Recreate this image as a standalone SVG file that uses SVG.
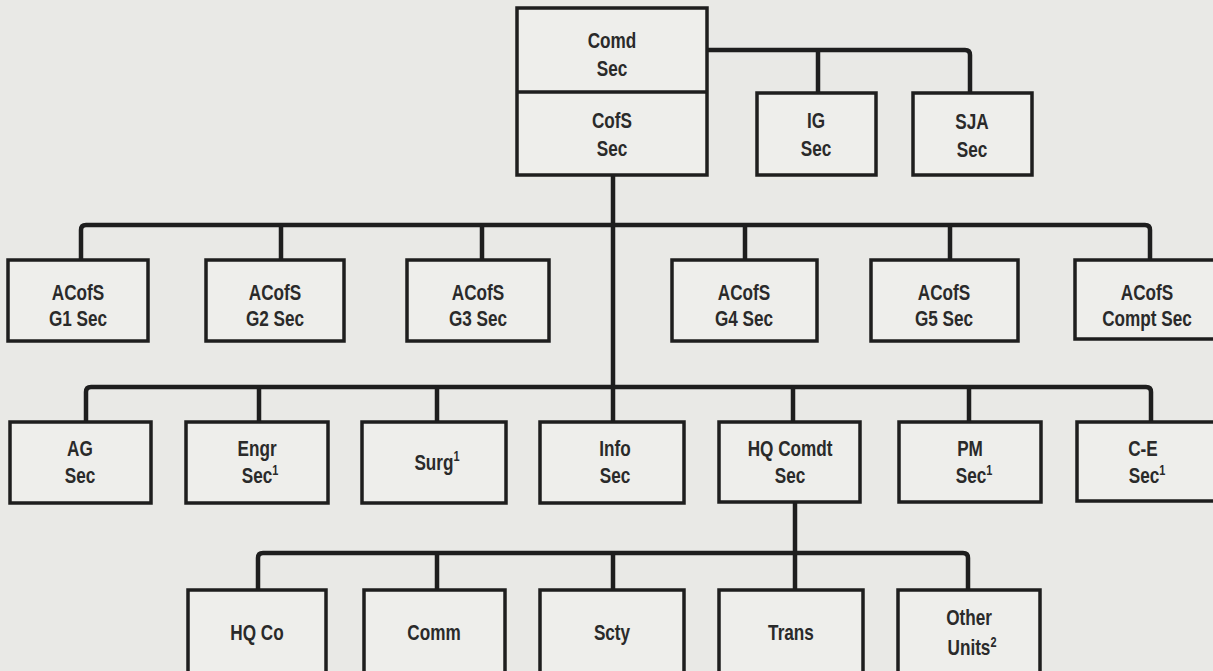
<svg xmlns="http://www.w3.org/2000/svg" width="1213" height="671" viewBox="0 0 1213 671">
<style>
.bg{fill:#e9e9e6}
.box{fill:#eeeeeb;stroke:#1e1e1e;stroke-width:3.5}
.ln{fill:none;stroke:#1e1e1e;stroke-width:4.5;stroke-linejoin:round;stroke-linecap:butt}
text{font-family:"Liberation Sans Narrow","Liberation Sans",Arial,sans-serif;font-weight:bold;font-size:22px;fill:#2a2a2a;text-anchor:middle;transform-box:fill-box;transform-origin:center;transform:scaleX(0.78)}
.sup{font-size:14px}
</style>
<rect class="bg" x="0" y="0" width="1213" height="671"/>
<g id="connectors">
<path class="ln" d="M707 50 H965 Q970 50 970 55 V93"/>
<path class="ln" d="M818 50 V93"/>
<path class="ln" d="M613 175 V422"/>
<path class="ln" d="M81 260 V230 Q81 225 86 225 H1145 Q1150 225 1150 230 V260"/>
<path class="ln" d="M281 225 V260 M482 225 V260 M745 225 V260 M950 225 V260"/>
<path class="ln" d="M86 422 V392 Q86 387 91 387 H1146 Q1151 387 1151 392 V422"/>
<path class="ln" d="M259 387 V422 M437 387 V422 M793 387 V422 M969 387 V422"/>
<path class="ln" d="M795 502 V590"/>
<path class="ln" d="M258 590 V558 Q258 553 263 553 H963 Q968 553 968 558 V590"/>
<path class="ln" d="M437 553 V590 M613 553 V590"/>
</g>
<g id="comd-cofs">
<rect class="box" x="517" y="8" width="190" height="167"/>
<line x1="517" y1="92" x2="707" y2="92" stroke="#1e1e1e" stroke-width="3.5"/>
<text x="612" y="48">Comd</text><text x="612" y="76">Sec</text>
<text x="612" y="128">CofS</text><text x="612" y="156">Sec</text>
</g>
<g id="ig"><rect class="box" x="757" y="93" width="119" height="82"/><text x="816" y="128">IG</text><text x="816" y="156">Sec</text></g>
<g id="sja"><rect class="box" x="913" y="93" width="119" height="82"/><text x="972" y="129">SJA</text><text x="972" y="157">Sec</text></g>

<g id="g1"><rect class="box" x="8" y="260" width="140" height="81"/><text x="78" y="300">ACofS</text><text x="78" y="326">G1 Sec</text></g>
<g id="g2"><rect class="box" x="206" y="260" width="138" height="81"/><text x="275" y="300">ACofS</text><text x="275" y="326">G2 Sec</text></g>
<g id="g3"><rect class="box" x="407" y="260" width="142" height="81"/><text x="478" y="300">ACofS</text><text x="478" y="326">G3 Sec</text></g>
<g id="g4"><rect class="box" x="672" y="260" width="145" height="81"/><text x="744" y="300">ACofS</text><text x="744" y="326">G4 Sec</text></g>
<g id="g5"><rect class="box" x="871" y="260" width="147" height="81"/><text x="944" y="300">ACofS</text><text x="944" y="326">G5 Sec</text></g>
<g id="compt"><rect class="box" x="1075" y="260" width="150" height="79"/><text x="1147" y="300">ACofS</text><text x="1147" y="326">Compt Sec</text></g>

<g id="ag"><rect class="box" x="10" y="422" width="141" height="81"/><text x="80" y="456">AG</text><text x="80" y="483">Sec</text></g>
<g id="engr"><rect class="box" x="186" y="422" width="142" height="81"/><text x="257" y="456">Engr</text><text x="260" y="483">Sec<tspan class="sup" dy="-8">1</tspan></text></g>
<g id="surg"><rect class="box" x="362" y="422" width="144" height="81"/><text x="437" y="470">Surg<tspan class="sup" dy="-9">1</tspan></text></g>
<g id="info"><rect class="box" x="540" y="422" width="144" height="81"/><text x="615" y="456">Info</text><text x="615" y="483">Sec</text></g>
<g id="hqcomdt"><rect class="box" x="719" y="422" width="141" height="80"/><text x="790" y="456">HQ Comdt</text><text x="790" y="483">Sec</text></g>
<g id="pm"><rect class="box" x="899" y="422" width="142" height="80"/><text x="970" y="456">PM</text><text x="974" y="483">Sec<tspan class="sup" dy="-8">1</tspan></text></g>
<g id="ce"><rect class="box" x="1077" y="422" width="150" height="79"/><text x="1143" y="456">C-E</text><text x="1147" y="483">Sec<tspan class="sup" dy="-8">1</tspan></text></g>

<g id="hqco"><rect class="box" x="188" y="590" width="138" height="95"/><text x="257" y="640">HQ Co</text></g>
<g id="comm"><rect class="box" x="364" y="590" width="141" height="95"/><text x="434" y="640">Comm</text></g>
<g id="scty"><rect class="box" x="540" y="590" width="144" height="95"/><text x="612" y="640">Scty</text></g>
<g id="trans"><rect class="box" x="719" y="590" width="144" height="95"/><text x="791" y="640">Trans</text></g>
<g id="other"><rect class="box" x="898" y="590" width="142" height="95"/><text x="969" y="625">Other</text><text x="972" y="655">Units<tspan class="sup" dy="-8">2</tspan></text></g>
</svg>
